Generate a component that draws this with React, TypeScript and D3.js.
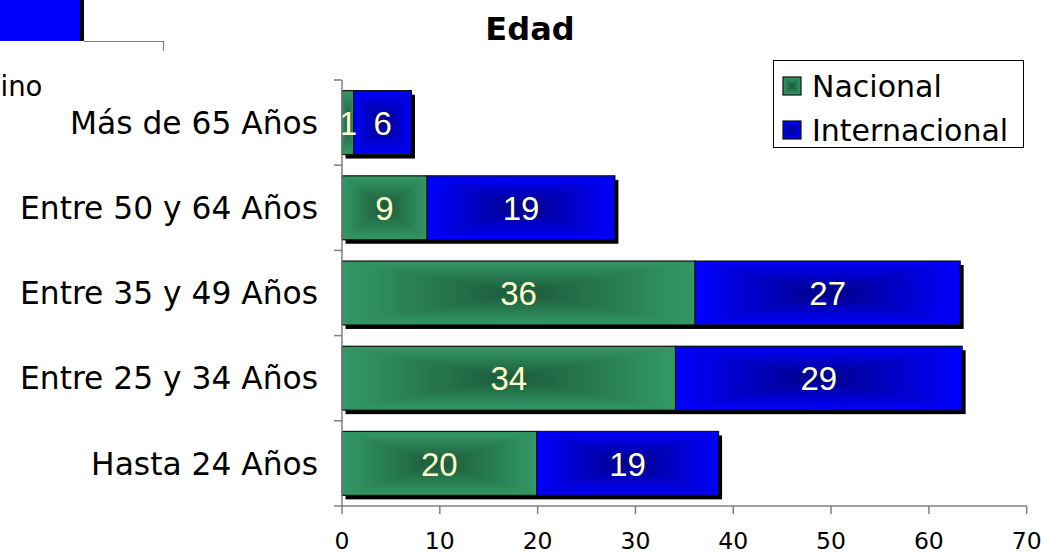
import React from "react";
import * as d3 from "d3";

const categories = ["Más de 65 Años", "Entre 50 y 64 Años", "Entre 35 y 49 Años", "Entre 25 y 34 Años", "Hasta 24 Años"];
const nacional = [1.2, 8.7, 36.1, 34.1, 19.9];
const internacional = [5.9, 19.2, 27.1, 29.3, 18.6];
const seriesNames = ["Nacional", "Internacional"];
const xTicks = [0, 10, 20, 30, 40, 50, 60, 70];
const title = "Edad";

const W = 1061;
const H = 554;
const LABEL_FONT = "'DejaVu Sans', Verdana, sans-serif";
const VALUE_FONT = "'Liberation Sans', Arial, sans-serif";

const palettes = [
  { light: "#339966", dark: "#1c5a3a", id: "g" },
  { light: "#0000ff", dark: "#000088", id: "b" },
];

function GradRect({ x, y, w, h, p }: { x: number; y: number; w: number; h: number; p: number }) {
  const pal = palettes[p];
  return (
    <g style={{ isolation: "isolate" }}>
      <rect x={x} y={y} width={w} height={h} fill={`url(#${pal.id}h)`} />
      <rect x={x} y={y} width={w} height={h} fill={`url(#${pal.id}v)`} style={{ mixBlendMode: "lighten" }} />
      <rect x={x} y={y} width={w} height={h} fill="none" stroke="#111" strokeWidth={1.2} />
    </g>
  );
}

export default function App() {
  const x = d3.scaleLinear().domain([0, 70]).range([342, 1026.7]);
  const y = d3.scaleBand<string>().domain(categories).range([80, 506]).paddingInner(0.25).paddingOuter(0.125);
  const bw = y.bandwidth();
  const step = y.step();
  const stacked = categories.map((c, i) => {
    const a = nacional[i];
    const b = internacional[i];
    return { c, segs: [{ x0: 0, x1: a, v: a }, { x0: a, x1: a + b, v: b }] };
  });
  const axisColor = "#808080";

  return (
    <svg width={W} height={H} style={{ position: "absolute", left: 0, top: 0, background: "#fff" }}>
      <defs>
        {palettes.map((pal) => (
          <React.Fragment key={pal.id}>
            <linearGradient id={`${pal.id}h`} x1="0" y1="0" x2="1" y2="0">
              <stop offset="0" stopColor={pal.light} />
              <stop offset="0.5" stopColor={pal.dark} />
              <stop offset="1" stopColor={pal.light} />
            </linearGradient>
            <linearGradient id={`${pal.id}v`} x1="0" y1="0" x2="0" y2="1">
              <stop offset="0" stopColor={pal.light} />
              <stop offset="0.5" stopColor={pal.dark} />
              <stop offset="1" stopColor={pal.light} />
            </linearGradient>
          </React.Fragment>
        ))}
      </defs>

      {/* fragment of neighbouring chart */}
      <rect x={4} y={-4} width={80} height={45} fill="#000" />
      <rect x={0} y={-4} width={80} height={45} fill="#0000ff" />
      <path d="M84,41.5 H163.5 V51" fill="none" stroke={axisColor} strokeWidth={1.2} />
      <text x={0.5} y={96} textAnchor="start" fontFamily={LABEL_FONT} fontSize={27.5} fill="#000">ino</text>

      {/* title */}
      <text x={530} y={40} textAnchor="middle" fontFamily={LABEL_FONT} fontSize={32} fontWeight="bold" fill="#000">{title}</text>

      {/* shadows */}
      {stacked.map((d) => (
        <rect key={"s" + d.c} x={x(0) + 3.5} y={(y(d.c) as number) + 4} width={x(d.segs[1].x1) - x(0)} height={bw} fill="#000" />
      ))}

      {/* bars */}
      {stacked.map((d) =>
        d.segs.map((s, j) => (
          <GradRect key={d.c + j} x={x(s.x0)} y={y(d.c) as number} w={x(s.x1) - x(s.x0)} h={bw} p={j} />
        ))
      )}

      {/* value labels */}
      {stacked.map((d) =>
        d.segs.map((s, j) => (
          <text
            key={"v" + d.c + j}
            x={(x(s.x0) + x(s.x1)) / 2}
            y={(y(d.c) as number) + bw / 2}
            dy="0.37em"
            textAnchor="middle"
            fontFamily={VALUE_FONT}
            fontSize={33}
            fill="#ffffcc"
          >
            {Math.round(s.v)}
          </text>
        ))
      )}

      {/* y axis */}
      <line x1={x(0)} x2={x(0)} y1={80} y2={506} stroke={axisColor} strokeWidth={1.5} />
      {d3.range(categories.length + 1).map((i) => (
        <line key={"yt" + i} x1={x(0) - 8} x2={x(0)} y1={80 + i * step} y2={80 + i * step} stroke={axisColor} strokeWidth={1.5} />
      ))}
      {categories.map((c) => (
        <text key={"yl" + c} x={318} y={(y(c) as number) + bw / 2} dy="0.36em" textAnchor="end" fontFamily={LABEL_FONT} fontSize={31.3} fill="#000">
          {c}
        </text>
      ))}

      {/* x axis */}
      <line x1={x(0)} x2={x(70)} y1={506} y2={506} stroke={axisColor} strokeWidth={1.5} />
      {xTicks.map((t) => (
        <g key={"xt" + t}>
          <line x1={x(t)} x2={x(t)} y1={506} y2={514} stroke={axisColor} strokeWidth={1.5} />
          <text x={x(t)} y={548.5} textAnchor="middle" fontFamily={LABEL_FONT} fontSize={23.5} fill="#000">{t}</text>
        </g>
      ))}

      {/* legend */}
      <rect x={773.5} y={60.5} width={250} height={87} fill="#fff" stroke="#000" strokeWidth={1} />
      {seriesNames.map((n, i) => (
        <g key={n}>
          <GradRect x={783} y={77 + i * 44} w={18} h={18} p={i} />
          <text x={812} y={97 + i * 43.5} fontFamily={LABEL_FONT} fontSize={30} fill="#000">{n}</text>
        </g>
      ))}
    </svg>
  );
}
